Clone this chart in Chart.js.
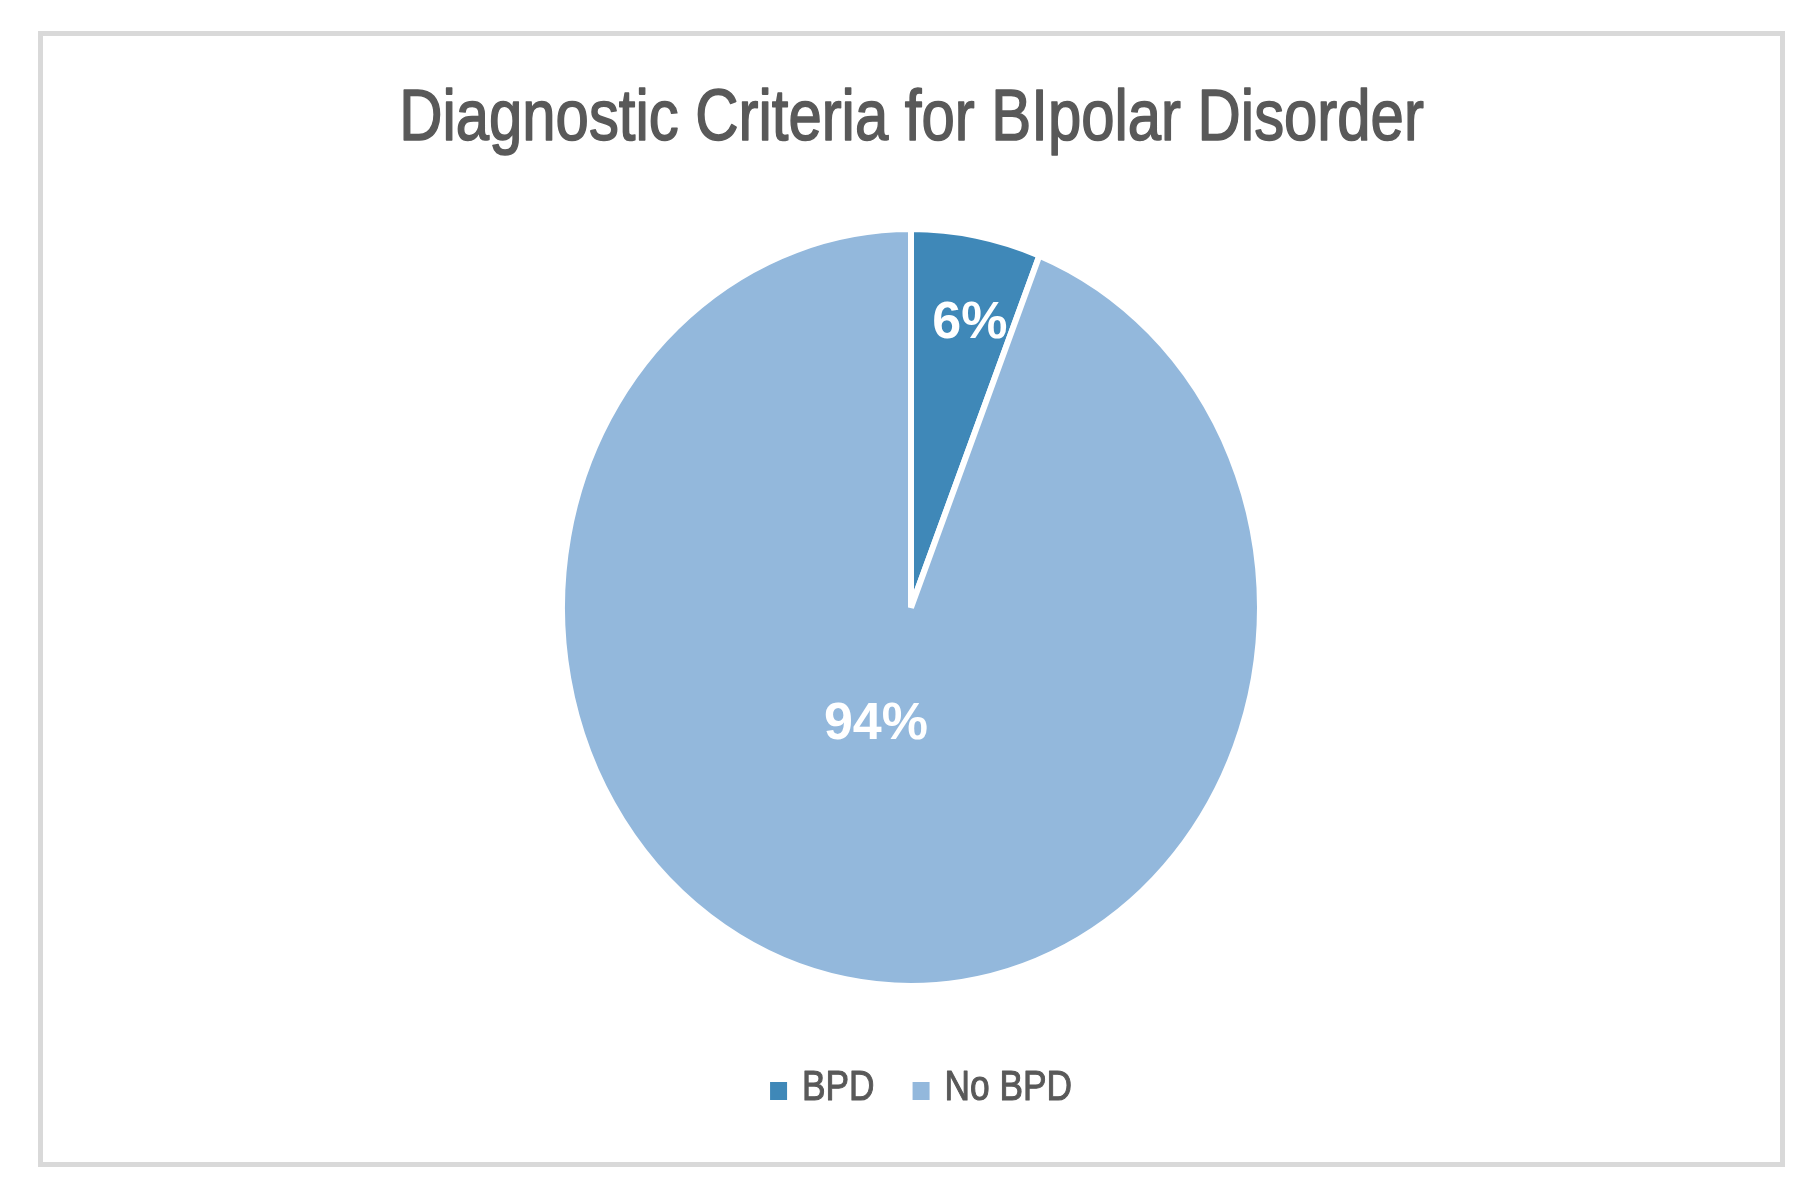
<!DOCTYPE html>
<html>
<head>
<meta charset="utf-8">
<title>Diagnostic Criteria for BIpolar Disorder</title>
<script src="https://cdn.jsdelivr.net/npm/chart.js@4/dist/chart.umd.min.js"></script>
<style>
  html, body { margin: 0; padding: 0; background: #ffffff; }
  #wrap { position: relative; width: 1796px; height: 1178px; }
  #frame {
    position: absolute; left: 38px; top: 31px; width: 1747px; height: 1136px;
    box-sizing: border-box; border: 5px solid #d9d9d9; pointer-events: none;
  }
  canvas { position: absolute; left: 0; top: 0; }
</style>
</head>
<body>
<div id="wrap">
  <canvas id="chart" width="1796" height="1178"></canvas>
  <div id="frame"></div>
</div>
<script>
// Share of patients meeting the diagnostic criteria (percent)
const categories = ['BPD', 'No BPD'];
const shares = [6, 94];
const sliceColors = ['#3f88b8', '#93b8dc'];
const chartTitle = 'Diagnostic Criteria for BIpolar Disorder';

const TEXT_COLOR = '#595959';
const NARROW = 0.82;              // horizontal squeeze for the narrow title/legend face
const FONT_FAMILY = '"Liberation Sans", Arial, sans-serif';

// Vertical stretch of the pie (it is drawn slightly taller than wide)
const PIE_STRETCH_Y = 1.085;
// Where each percentage label sits: fraction of the radius, and a small turn (degrees) from the slice middle
const labelSpots = [{ r: 0.78, turn: 1.8 }, { r: 0.324, turn: 7.4 }];

// draws a string squeezed horizontally, anchored at its left edge or centre
function narrowText(ctx, text, x, y, align, weight) {
  const w = ctx.measureText(text).width * NARROW;
  const left = align === 'center' ? x - w / 2 : x;
  ctx.save();
  ctx.translate(left, y);
  ctx.scale(NARROW, 1);
  ctx.textAlign = 'left';
  ctx.fillText(text, 0, 0);
  if (weight) {
    ctx.strokeStyle = ctx.fillStyle;
    ctx.lineWidth = weight;
    ctx.lineJoin = 'round';
    ctx.strokeText(text, 0, 0);
  }
  ctx.restore();
  return w;
}

const stretchPie = {
  id: 'stretchPie',
  beforeDatasetsDraw(chart) {
    const arc = chart.getDatasetMeta(0).data[0];
    const ctx = chart.ctx;
    ctx.save();
    ctx.translate(arc.x, arc.y);
    ctx.scale(1, PIE_STRETCH_Y);
    ctx.translate(-arc.x, -arc.y);
  },
  afterDatasetsDraw(chart) {
    const ctx = chart.ctx;
    ctx.restore();
    // percentage labels inside the slices
    const meta = chart.getDatasetMeta(0);
    ctx.save();
    ctx.fillStyle = '#ffffff';
    ctx.font = 'bold 52px ' + FONT_FAMILY;
    ctx.textAlign = 'center';
    ctx.textBaseline = 'middle';
    meta.data.forEach((el, i) => {
      const p = el.getProps(['x', 'y', 'startAngle', 'endAngle', 'outerRadius'], true);
      const mid = (p.startAngle + p.endAngle) / 2 + labelSpots[i].turn * Math.PI / 180;
      const rr = (p.outerRadius - 3) * labelSpots[i].r;
      const lx = p.x + Math.cos(mid) * rr;
      const ly = p.y + Math.sin(mid) * rr * PIE_STRETCH_Y;
      ctx.fillText(shares[i] + '%', lx, ly + 2);
    });
    ctx.restore();
  }
};

// chart title and legend, set in a narrow face
const headerAndKey = {
  id: 'headerAndKey',
  afterDraw(chart) {
    const ctx = chart.ctx;
    ctx.save();
    ctx.fillStyle = TEXT_COLOR;
    ctx.textBaseline = 'alphabetic';
    ctx.font = '73px ' + FONT_FAMILY;
    narrowText(ctx, chartTitle, 911.5, 140, 'center', 1.6);

    ctx.font = '43px ' + FONT_FAMILY;
    const box = 17, gap = 15, spacing = 38, baseY = 1100;
    const widths = categories.map(c => ctx.measureText(c).width * NARROW);
    const total = widths.reduce((a, w) => a + box + gap + w, 0) + spacing * (categories.length - 1);
    let x = 921 - total / 2;
    categories.forEach((c, i) => {
      ctx.fillStyle = sliceColors[i];
      ctx.fillRect(x, baseY - 18, box, box + 1);
      x += box + gap;
      ctx.fillStyle = TEXT_COLOR;
      narrowText(ctx, c, x, baseY, 'left', 1.1);
      x += widths[i] + spacing;
    });
    ctx.restore();
  }
};

new Chart(document.getElementById('chart'), {
  type: 'pie',
  data: {
    labels: categories,
    datasets: [{
      data: shares,
      backgroundColor: sliceColors,
      borderColor: '#ffffff',
      borderWidth: 6,
      clip: false
    }]
  },
  options: {
    responsive: false,
    animation: false,
    radius: 349,
    layout: { padding: { left: 26, right: 0, top: 190, bottom: 153 } },
    plugins: {
      title: { display: false },
      legend: { display: false },
      tooltip: { enabled: false }
    }
  },
  plugins: [stretchPie, headerAndKey]
});
</script>
</body>
</html>
